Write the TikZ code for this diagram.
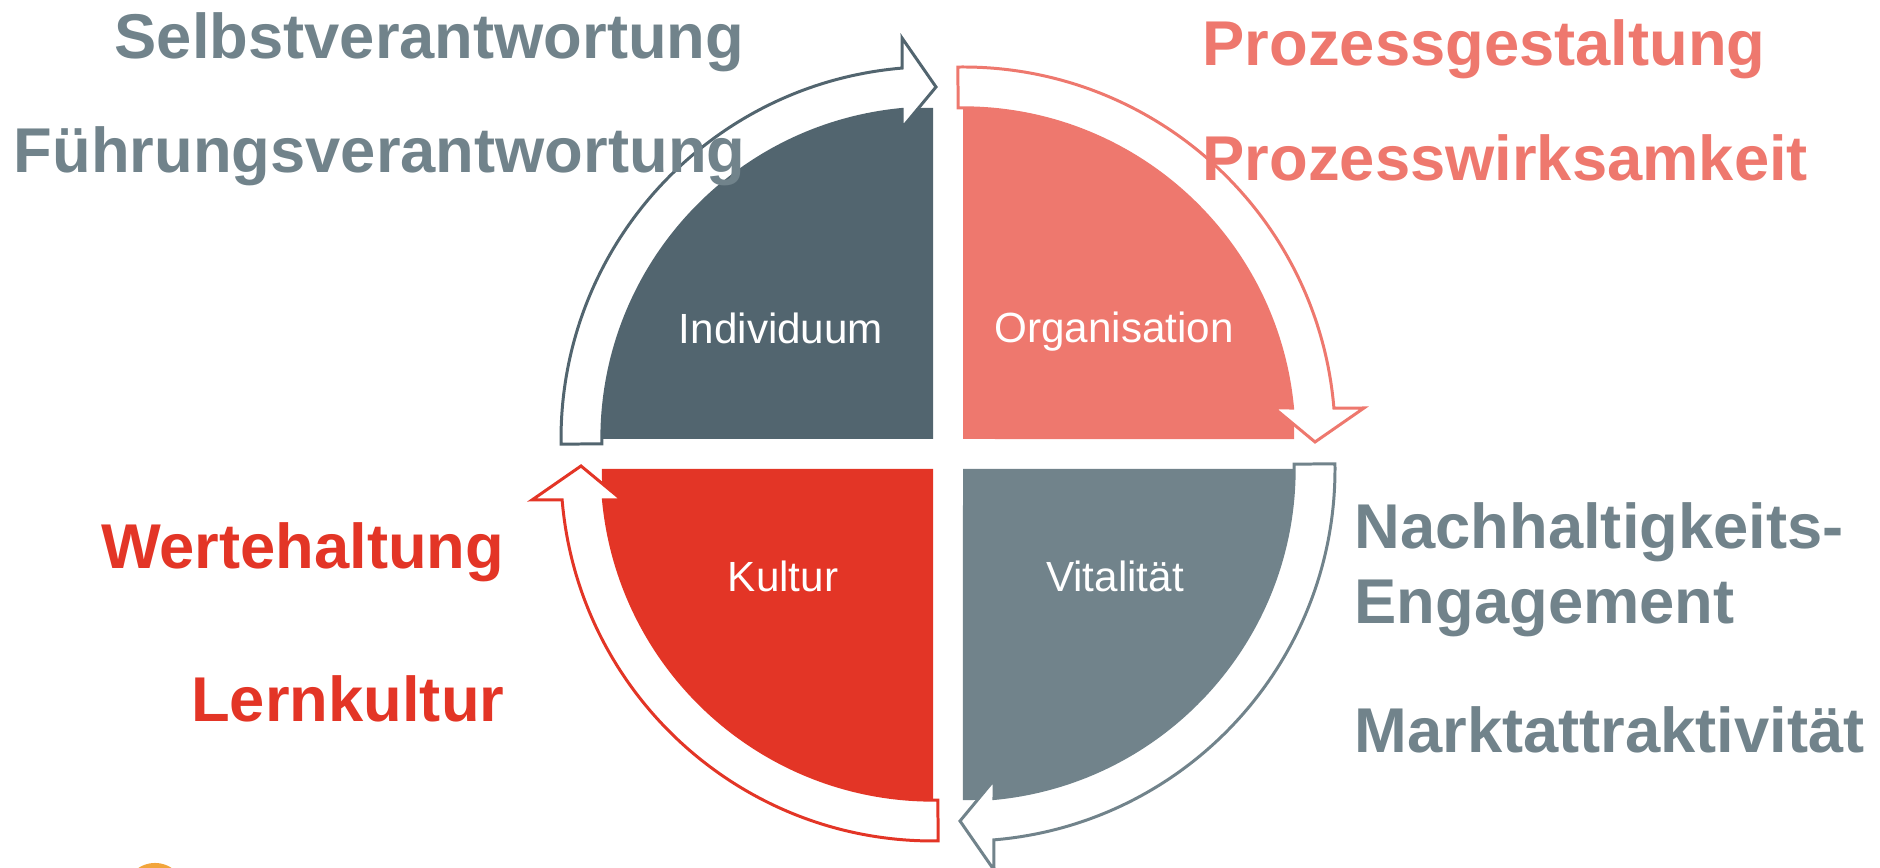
\documentclass[tikz,border=0pt]{standalone}
\usepackage{fontspec}
\setmainfont{Liberation Sans}
\usepackage{xcolor}
\definecolor{indiv}{RGB}{82,101,111}
\definecolor{orga}{RGB}{238,120,110}
\definecolor{kultur}{RGB}{227,53,38}
\definecolor{vital}{RGB}{113,131,139}
\definecolor{sun}{RGB}{242,165,60}

\begin{document}
\begin{tikzpicture}[
        x=0.01cm, y=0.01cm,
        pics/quarter/.style={code={
            \fill[#1] (0,0) -- (0,331) arc[start angle=90, end angle=0, radius=3.31cm] -- cycle;
            \draw[#1, fill=white, line width=0.85pt]
                (90.8:372) arc[start angle=90.8, end angle=4.78, radius=3.72cm]
                -- (401,31) -- (352,-3) -- (311,31) -- (5.37:331)
                arc[start angle=5.37, end angle=90.8, radius=3.31cm] -- cycle;
        }},
        title/.style={font=\fontsize{12}{14}\selectfont, text=white, anchor=base, inner sep=0pt},
        topic/.style={font=\fontsize{18}{21.6}\selectfont\bfseries, inner sep=0pt, align=left}
    ]
    \useasboundingbox (0,0) rectangle (1880,868);

    % the four quarters with their bent arrows
    \pic[rotate=90] at (933,429) {quarter=indiv};
    \pic at (963,429) {quarter=orga};
    \pic[rotate=180] at (933,399) {quarter=kultur};
    \pic[rotate=270] at (963,399) {quarter=vital};

    \node[title] (individuum) at (781,524) {Individuum};
    \node[title] (organisation) at (1114,525) {Organisation};
    \node[title] (kultur) at (783,276) {Kultur};
    \node[title] (vitalitaet) at (1115,276) {Vitalität};

    % topics round the cycle
    \node[topic, text=vital, anchor=base east] (selbst) at (745,809) {Selbstverantwortung};
    \node[topic, text=vital, anchor=base east] (fuehrung) at (746,695) {Führungsverantwortung};
    \node[topic, text=orga, anchor=base west] (gestaltung) at (1202,802) {Prozessgestaltung};
    \node[topic, text=orga, anchor=base west] (wirksamkeit) at (1202,687) {Prozesswirksamkeit};
    \node[topic, text=kultur, anchor=base east] (werte) at (505,299) {Wertehaltung};
    \node[topic, text=kultur, anchor=base east] (lernen) at (505,146) {Lernkultur};
    \node[topic, text=vital, anchor=base west] (nachhaltig) at (1354,244) {Nachhaltigkeits-\\Engagement};
    \node[topic, text=vital, anchor=base west] (markt) at (1354,115) {Marktattraktivität};

    \begin{scope}
        \clip (0,0) rectangle (1880,868);
        \fill[sun] (155,-25) circle[radius=0.3cm];
    \end{scope}
\end{tikzpicture}
\end{document}
